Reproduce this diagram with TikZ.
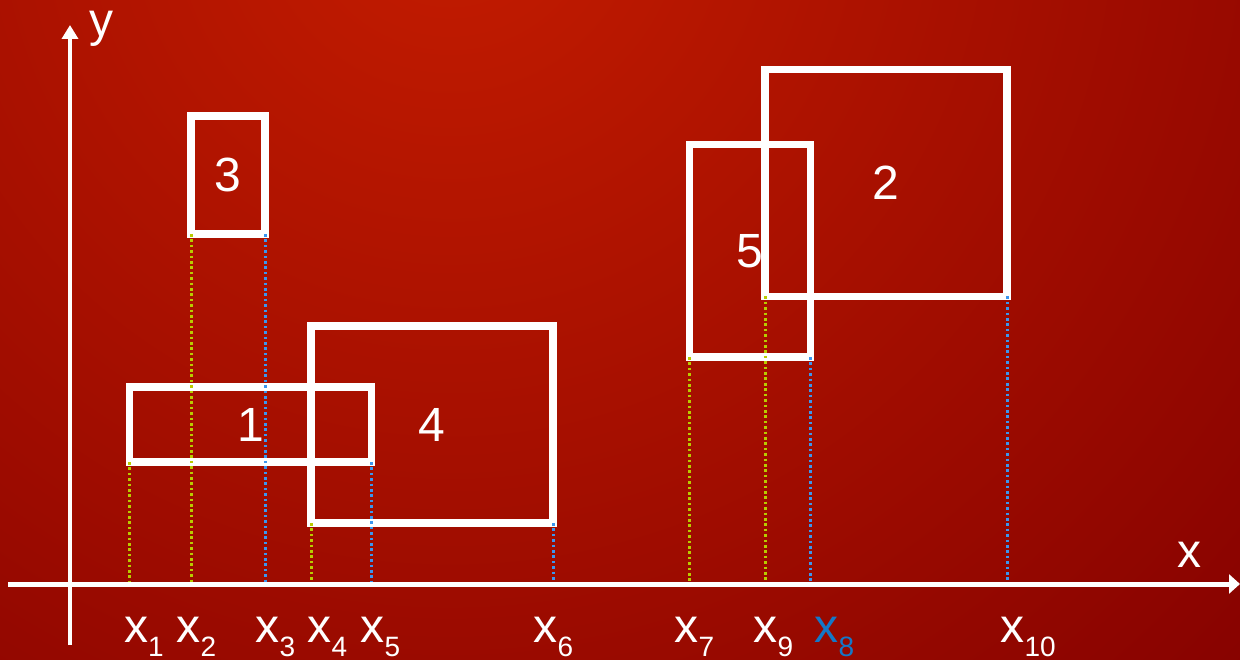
\documentclass[tikz,border=0pt]{standalone}
\usepackage{fontspec}
\setmainfont{Liberation Sans}
\usetikzlibrary{arrows.meta}
\definecolor{bgin}{HTML}{C41C00}
\definecolor{bgout}{HTML}{820000}
\definecolor{yel}{HTML}{B8CC00}
\definecolor{blu}{HTML}{3A96F0}
\definecolor{lblblue}{HTML}{1478C8}
\newcommand\xsub[1]{{\fontsize{48}{48}\selectfont x}\raisebox{-14pt}{\fontsize{28}{28}\selectfont #1}}
\begin{document}
\begin{tikzpicture}[x=1pt,y=-1pt,
  box/.style={draw=white, line width=7.5pt, inner sep=0pt, outer sep=0pt, text=white,
    font=\fontsize{48}{48}\selectfont},
  xaxis/.style={draw=white, line width=5pt},
  yaxis/.style={draw=white, line width=4pt},
  ydot/.style={draw=yel, line width=3pt, dash pattern=on 2.6pt off 2.8pt},
  bdot/.style={draw=blu, line width=3pt, dash pattern=on 2.6pt off 2.8pt},
  lbl/.style={text=white, inner sep=0pt, outer sep=0pt, anchor=base west},
]
\useasboundingbox (0,0) rectangle (1240,660);
% background
\begin{scope}
  \clip (0,0) rectangle (1240,660);
  \shade[inner color=bgin, outer color=bgout] (450,-100) circle (1200);
\end{scope}
% rectangles
\node[box, minimum width=242pt, minimum height=75pt]    (r1) at (250.5,424.5) {1};
\node[box, minimum width=74pt,  minimum height=118pt]   (r3) at (228,175)     {3};
\node[box, minimum width=242pt, minimum height=197pt]   (r4) at (432,424.5)   {4};
\node[box, minimum width=121pt, minimum height=212.5pt] (r5) at (750,250.75)  {5};
\node[box, minimum width=242pt, minimum height=227pt]   (r2) at (886,183)     {2};
% axis coordinates
\coordinate (xa) at (0,584);
\coordinate (xs) at (8,584);
\coordinate (xe) at (1240,584);
\coordinate (ys) at (70,645);
\coordinate (ye) at (70,25);
% dotted projections
\draw[ydot] (r1.south west) -- (r1.south west |- xa);
\draw[ydot] (r3.south west) -- (r3.south west |- xa);
\draw[bdot] (r3.south east) -- (r3.south east |- xa);
\draw[ydot] (r4.south west) -- (r4.south west |- xa);
\draw[bdot] (r1.south east) -- (r1.south east |- xa);
\draw[bdot] (r4.south east) -- (r4.south east |- xa);
\draw[ydot] (r5.south west) -- (r5.south west |- xa);
\draw[ydot] (r2.south west) -- (r2.south west |- xa);
\draw[bdot] (r5.south east) -- (r5.south east |- xa);
\draw[bdot] (r2.south east) -- (r2.south east |- xa);
% axes
\draw[xaxis, -{Triangle[length=11pt, width=19pt]}] (xs) -- (xe);
\draw[yaxis, -{Triangle[length=14pt, width=16pt]}] (ys) -- (ye);
\node[lbl, font=\fontsize{48}{48}\selectfont] (lx) at (1177,567) {x};
\node[lbl, font=\fontsize{48}{48}\selectfont] (ly) at (89,37) {y};
% tick labels
\node[lbl] (l1)  at (124,642)  {\xsub{1}};
\node[lbl] (l2)  at (176.5,642) {\xsub{2}};
\node[lbl] (l3)  at (255.5,642) {\xsub{3}};
\node[lbl] (l4)  at (307.5,642) {\xsub{4}};
\node[lbl] (l5)  at (360.5,642) {\xsub{5}};
\node[lbl] (l6)  at (533.5,642) {\xsub{6}};
\node[lbl] (l7)  at (674.5,642) {\xsub{7}};
\node[lbl] (l9)  at (753.5,642) {\xsub{9}};
\node[lbl, text=lblblue] (l8) at (814.5,642) {\xsub{8}};
\node[lbl] (l10) at (1000.5,642) {\xsub{10}};
\end{tikzpicture}
\end{document}
